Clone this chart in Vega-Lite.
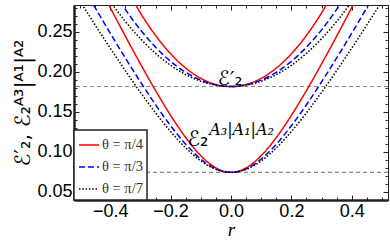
{
  "$schema": "https://vega.github.io/schema/vega-lite/v6.json",
  "width": 314,
  "height": 195,
  "autosize": "none",
  "padding": {"left": 74, "top": 5, "right": 2, "bottom": 41},
  "background": "white",
  "config": {
    "view": {"stroke": "#333", "strokeWidth": 1},
    "axis": {"grid": false, "tickColor": "#222", "domainColor": "#222", "labelColor": "black", "titleColor": "black"},
    "legend": {
      "orient": "bottom-left", "offset": 0, "fillColor": "white", "strokeColor": "#222", "strokeWidth": 1.5,
      "padding": 4, "symbolType": "stroke", "symbolSize": 400, "symbolStrokeWidth": 1.6,
      "labelFont": "Liberation Serif", "labelFontSize": 14.5, "labelColor": "#333", "rowPadding": 4, "labelOffset": 2, "titlePadding": 0
    }
  },
  "datasets": {
    "curves": [
      {"r": -0.4, "v": 0.3448, "t": "θ = π/4", "f": "u"},
      {"r": -0.35, "v": 0.3066, "t": "θ = π/4", "f": "u"},
      {"r": -0.3, "v": 0.2734, "t": "θ = π/4", "f": "u"},
      {"r": -0.25, "v": 0.2454, "t": "θ = π/4", "f": "u"},
      {"r": -0.2, "v": 0.2224, "t": "θ = π/4", "f": "u"},
      {"r": -0.15, "v": 0.2046, "t": "θ = π/4", "f": "u"},
      {"r": -0.1, "v": 0.1918, "t": "θ = π/4", "f": "u"},
      {"r": -0.05, "v": 0.1842, "t": "θ = π/4", "f": "u"},
      {"r": 0, "v": 0.1816, "t": "θ = π/4", "f": "u"},
      {"r": 0.05, "v": 0.1842, "t": "θ = π/4", "f": "u"},
      {"r": 0.1, "v": 0.1918, "t": "θ = π/4", "f": "u"},
      {"r": 0.15, "v": 0.2046, "t": "θ = π/4", "f": "u"},
      {"r": 0.2, "v": 0.2224, "t": "θ = π/4", "f": "u"},
      {"r": 0.25, "v": 0.2454, "t": "θ = π/4", "f": "u"},
      {"r": 0.3, "v": 0.2734, "t": "θ = π/4", "f": "u"},
      {"r": 0.35, "v": 0.3066, "t": "θ = π/4", "f": "u"},
      {"r": 0.4, "v": 0.3448, "t": "θ = π/4", "f": "u"},

      {"r": -0.4, "v": 0.3072, "t": "θ = π/3", "f": "u"},
      {"r": -0.35, "v": 0.2778, "t": "θ = π/3", "f": "u"},
      {"r": -0.3, "v": 0.2523, "t": "θ = π/3", "f": "u"},
      {"r": -0.25, "v": 0.2307, "t": "θ = π/3", "f": "u"},
      {"r": -0.2, "v": 0.2130, "t": "θ = π/3", "f": "u"},
      {"r": -0.15, "v": 0.1993, "t": "θ = π/3", "f": "u"},
      {"r": -0.1, "v": 0.1895, "t": "θ = π/3", "f": "u"},
      {"r": -0.05, "v": 0.1836, "t": "θ = π/3", "f": "u"},
      {"r": 0, "v": 0.1816, "t": "θ = π/3", "f": "u"},
      {"r": 0.05, "v": 0.1836, "t": "θ = π/3", "f": "u"},
      {"r": 0.1, "v": 0.1895, "t": "θ = π/3", "f": "u"},
      {"r": 0.15, "v": 0.1993, "t": "θ = π/3", "f": "u"},
      {"r": 0.2, "v": 0.2130, "t": "θ = π/3", "f": "u"},
      {"r": 0.25, "v": 0.2307, "t": "θ = π/3", "f": "u"},
      {"r": 0.3, "v": 0.2523, "t": "θ = π/3", "f": "u"},
      {"r": 0.35, "v": 0.2778, "t": "θ = π/3", "f": "u"},
      {"r": 0.4, "v": 0.3072, "t": "θ = π/3", "f": "u"},

      {"r": -0.45, "v": 0.3158, "t": "θ = π/7", "f": "u"},
      {"r": -0.4, "v": 0.2877, "t": "θ = π/7", "f": "u"},
      {"r": -0.35, "v": 0.2628, "t": "θ = π/7", "f": "u"},
      {"r": -0.3, "v": 0.2413, "t": "θ = π/7", "f": "u"},
      {"r": -0.25, "v": 0.2230, "t": "θ = π/7", "f": "u"},
      {"r": -0.2, "v": 0.2081, "t": "θ = π/7", "f": "u"},
      {"r": -0.15, "v": 0.1965, "t": "θ = π/7", "f": "u"},
      {"r": -0.1, "v": 0.1882, "t": "θ = π/7", "f": "u"},
      {"r": -0.05, "v": 0.1833, "t": "θ = π/7", "f": "u"},
      {"r": 0, "v": 0.1816, "t": "θ = π/7", "f": "u"},
      {"r": 0.05, "v": 0.1833, "t": "θ = π/7", "f": "u"},
      {"r": 0.1, "v": 0.1882, "t": "θ = π/7", "f": "u"},
      {"r": 0.15, "v": 0.1965, "t": "θ = π/7", "f": "u"},
      {"r": 0.2, "v": 0.2081, "t": "θ = π/7", "f": "u"},
      {"r": 0.25, "v": 0.2230, "t": "θ = π/7", "f": "u"},
      {"r": 0.3, "v": 0.2413, "t": "θ = π/7", "f": "u"},
      {"r": 0.35, "v": 0.2628, "t": "θ = π/7", "f": "u"},
      {"r": 0.4, "v": 0.2877, "t": "θ = π/7", "f": "u"},
      {"r": 0.45, "v": 0.3158, "t": "θ = π/7", "f": "u"},

      {"r": -0.45, "v": 0.3166, "t": "θ = π/4", "f": "l"},
      {"r": -0.4, "v": 0.2801, "t": "θ = π/4", "f": "l"},
      {"r": -0.35, "v": 0.2444, "t": "θ = π/4", "f": "l"},
      {"r": -0.3, "v": 0.2098, "t": "θ = π/4", "f": "l"},
      {"r": -0.25, "v": 0.1766, "t": "θ = π/4", "f": "l"},
      {"r": -0.2, "v": 0.1456, "t": "θ = π/4", "f": "l"},
      {"r": -0.15, "v": 0.1179, "t": "θ = π/4", "f": "l"},
      {"r": -0.1, "v": 0.0953, "t": "θ = π/4", "f": "l"},
      {"r": -0.05, "v": 0.0800, "t": "θ = π/4", "f": "l"},
      {"r": 0, "v": 0.0745, "t": "θ = π/4", "f": "l"},
      {"r": 0.05, "v": 0.0800, "t": "θ = π/4", "f": "l"},
      {"r": 0.1, "v": 0.0953, "t": "θ = π/4", "f": "l"},
      {"r": 0.15, "v": 0.1179, "t": "θ = π/4", "f": "l"},
      {"r": 0.2, "v": 0.1456, "t": "θ = π/4", "f": "l"},
      {"r": 0.25, "v": 0.1766, "t": "θ = π/4", "f": "l"},
      {"r": 0.3, "v": 0.2098, "t": "θ = π/4", "f": "l"},
      {"r": 0.35, "v": 0.2444, "t": "θ = π/4", "f": "l"},
      {"r": 0.4, "v": 0.2801, "t": "θ = π/4", "f": "l"},
      {"r": 0.45, "v": 0.3166, "t": "θ = π/4", "f": "l"},

      {"r": -0.5, "v": 0.3122, "t": "θ = π/3", "f": "l"},
      {"r": -0.45, "v": 0.2799, "t": "θ = π/3", "f": "l"},
      {"r": -0.4, "v": 0.2481, "t": "θ = π/3", "f": "l"},
      {"r": -0.35, "v": 0.2172, "t": "θ = π/3", "f": "l"},
      {"r": -0.3, "v": 0.1873, "t": "θ = π/3", "f": "l"},
      {"r": -0.25, "v": 0.1589, "t": "θ = π/3", "f": "l"},
      {"r": -0.2, "v": 0.1327, "t": "θ = π/3", "f": "l"},
      {"r": -0.15, "v": 0.1096, "t": "θ = π/3", "f": "l"},
      {"r": -0.1, "v": 0.0911, "t": "θ = π/3", "f": "l"},
      {"r": -0.05, "v": 0.0788, "t": "θ = π/3", "f": "l"},
      {"r": 0, "v": 0.0745, "t": "θ = π/3", "f": "l"},
      {"r": 0.05, "v": 0.0788, "t": "θ = π/3", "f": "l"},
      {"r": 0.1, "v": 0.0911, "t": "θ = π/3", "f": "l"},
      {"r": 0.15, "v": 0.1096, "t": "θ = π/3", "f": "l"},
      {"r": 0.2, "v": 0.1327, "t": "θ = π/3", "f": "l"},
      {"r": 0.25, "v": 0.1589, "t": "θ = π/3", "f": "l"},
      {"r": 0.3, "v": 0.1873, "t": "θ = π/3", "f": "l"},
      {"r": 0.35, "v": 0.2172, "t": "θ = π/3", "f": "l"},
      {"r": 0.4, "v": 0.2481, "t": "θ = π/3", "f": "l"},
      {"r": 0.45, "v": 0.2799, "t": "θ = π/3", "f": "l"},
      {"r": 0.5, "v": 0.3122, "t": "θ = π/3", "f": "l"},

      {"r": -0.5, "v": 0.2880, "t": "θ = π/7", "f": "l"},
      {"r": -0.45, "v": 0.2584, "t": "θ = π/7", "f": "l"},
      {"r": -0.4, "v": 0.2295, "t": "θ = π/7", "f": "l"},
      {"r": -0.35, "v": 0.2014, "t": "θ = π/7", "f": "l"},
      {"r": -0.3, "v": 0.1743, "t": "θ = π/7", "f": "l"},
      {"r": -0.25, "v": 0.1488, "t": "θ = π/7", "f": "l"},
      {"r": -0.2, "v": 0.1254, "t": "θ = π/7", "f": "l"},
      {"r": -0.15, "v": 0.1050, "t": "θ = π/7", "f": "l"},
      {"r": -0.1, "v": 0.0888, "t": "θ = π/7", "f": "l"},
      {"r": -0.05, "v": 0.0782, "t": "θ = π/7", "f": "l"},
      {"r": 0, "v": 0.0745, "t": "θ = π/7", "f": "l"},
      {"r": 0.05, "v": 0.0782, "t": "θ = π/7", "f": "l"},
      {"r": 0.1, "v": 0.0888, "t": "θ = π/7", "f": "l"},
      {"r": 0.15, "v": 0.1050, "t": "θ = π/7", "f": "l"},
      {"r": 0.2, "v": 0.1254, "t": "θ = π/7", "f": "l"},
      {"r": 0.25, "v": 0.1488, "t": "θ = π/7", "f": "l"},
      {"r": 0.3, "v": 0.1743, "t": "θ = π/7", "f": "l"},
      {"r": 0.35, "v": 0.2014, "t": "θ = π/7", "f": "l"},
      {"r": 0.4, "v": 0.2295, "t": "θ = π/7", "f": "l"},
      {"r": 0.45, "v": 0.2584, "t": "θ = π/7", "f": "l"},
      {"r": 0.5, "v": 0.2880, "t": "θ = π/7", "f": "l"}
    ],
    "refs": [{"v": 0.1816}, {"v": 0.0745}],
    "lab1": [{"r": -0.003, "v": 0.1841, "s": "ℰ′₂"}],
    "lab2": [{"r": -0.145, "v": 0.1074, "s": "ℰ₂"}],
    "lab3": [{"r": -0.072, "v": 0.1215, "s": "A₃|A₁|A₂"}]
  },
  "resolve": {"axis": {"x": "independent", "y": "independent"}},
  "layer": [
    {
      "data": {"name": "refs"},
      "mark": {"type": "rule", "color": "#8a8a8a", "strokeDash": [4, 3], "strokeWidth": 1.2},
      "encoding": {
        "y": {"field": "v", "type": "quantitative", "scale": {"domain": [0.04, 0.2833], "nice": false, "zero": false}, "axis": null}
      }
    },
    {
      "data": {"name": "curves"},
      "mark": {"type": "line", "clip": true, "interpolate": "monotone", "strokeWidth": 1.5},
      "encoding": {
        "x": {"field": "r", "type": "quantitative",
          "scale": {"domain": [-0.52, 0.52], "nice": false, "zero": false},
          "axis": {"orient": "bottom", "values": [-0.4, -0.2, 0, 0.2, 0.4], "format": ".1f",
            "title": "r", "titleFont": "Liberation Serif", "titleFontStyle": "italic", "titleFontWeight": "normal", "titleFontSize": 19, "titlePadding": 0,
            "labelFont": "Liberation Sans", "labelFontSize": 18, "tickSize": -5, "labelPadding": 7, "domainWidth": 2.5}},
        "y": {"field": "v", "type": "quantitative",
          "scale": {"domain": [0.04, 0.2833], "nice": false, "zero": false},
          "axis": {"orient": "left", "values": [0.05, 0.1, 0.15, 0.2, 0.25], "format": ".2f",
            "title": "ℰ′₂, ℰ₂ᴬ³|ᴬ¹|ᴬ²", "titleFont": "DejaVu Sans", "titleFontWeight": "normal", "titleFontSize": 21, "titlePadding": 3,
            "labelFont": "Liberation Sans", "labelFontSize": 18, "tickSize": -5, "labelPadding": 7, "domainWidth": 2.5}},
        "color": {"field": "t", "type": "nominal",
          "scale": {"domain": ["θ = π/4", "θ = π/3", "θ = π/7"], "range": ["#ff0000", "#0000ff", "#000000"]},
          "legend": {"title": null}},
        "strokeDash": {"field": "t", "type": "nominal",
          "scale": {"domain": ["θ = π/4", "θ = π/3", "θ = π/7"], "range": [[1, 0], [6, 3], [1.5, 1.8]]},
          "legend": {"title": null}},
        "detail": {"field": "f", "type": "nominal"}
      }
    },
    {
      "data": {"name": "lab1"},
      "mark": {"type": "text", "font": "DejaVu Sans", "fontSize": 20, "align": "center", "baseline": "alphabetic", "color": "black"},
      "encoding": {
        "x": {"field": "r", "type": "quantitative", "scale": {"domain": [-0.52, 0.52], "nice": false, "zero": false},
          "axis": {"orient": "top", "values": [-0.4, -0.2, 0, 0.2, 0.4], "labels": false, "title": null, "tickSize": -5, "domainWidth": 1}},
        "y": {"field": "v", "type": "quantitative", "scale": {"domain": [0.04, 0.2833], "nice": false, "zero": false},
          "axis": {"orient": "right", "values": [0.05, 0.1, 0.15, 0.2, 0.25], "labels": false, "title": null, "tickSize": -5, "domainWidth": 1}},
        "text": {"field": "s"}
      }
    },
    {
      "data": {"name": "lab2"},
      "mark": {"type": "text", "font": "DejaVu Sans", "fontSize": 21, "align": "left", "baseline": "alphabetic", "color": "black"},
      "encoding": {
        "x": {"field": "r", "type": "quantitative", "scale": {"domain": [-0.52, 0.52], "nice": false, "zero": false},
          "axis": {"orient": "bottom", "values": [-0.5, -0.45, -0.35, -0.3, -0.25, -0.15, -0.1, -0.05, 0.05, 0.1, 0.15, 0.25, 0.3, 0.35, 0.45, 0.5], "labels": false, "title": null, "tickSize": -3, "domain": false}},
        "y": {"field": "v", "type": "quantitative", "scale": {"domain": [0.04, 0.2833], "nice": false, "zero": false},
          "axis": {"orient": "left", "values": [0.04, 0.06, 0.07, 0.08, 0.09, 0.11, 0.12, 0.13, 0.14, 0.16, 0.17, 0.18, 0.19, 0.21, 0.22, 0.23, 0.24, 0.26, 0.27, 0.28], "labels": false, "title": null, "tickSize": -3, "domain": false}},
        "text": {"field": "s"}
      }
    },
    {
      "data": {"name": "lab3"},
      "mark": {"type": "text", "font": "DejaVu Serif", "fontStyle": "italic", "fontSize": 16, "align": "left", "baseline": "alphabetic", "color": "black"},
      "encoding": {
        "x": {"field": "r", "type": "quantitative", "scale": {"domain": [-0.52, 0.52], "nice": false, "zero": false},
          "axis": {"orient": "top", "values": [-0.5, -0.45, -0.35, -0.3, -0.25, -0.15, -0.1, -0.05, 0.05, 0.1, 0.15, 0.25, 0.3, 0.35, 0.45, 0.5], "labels": false, "title": null, "tickSize": -3, "domain": false}},
        "y": {"field": "v", "type": "quantitative", "scale": {"domain": [0.04, 0.2833], "nice": false, "zero": false},
          "axis": {"orient": "right", "values": [0.04, 0.06, 0.07, 0.08, 0.09, 0.11, 0.12, 0.13, 0.14, 0.16, 0.17, 0.18, 0.19, 0.21, 0.22, 0.23, 0.24, 0.26, 0.27, 0.28], "labels": false, "title": null, "tickSize": -3, "domain": false}},
        "text": {"field": "s"}
      }
    }
  ]
}
